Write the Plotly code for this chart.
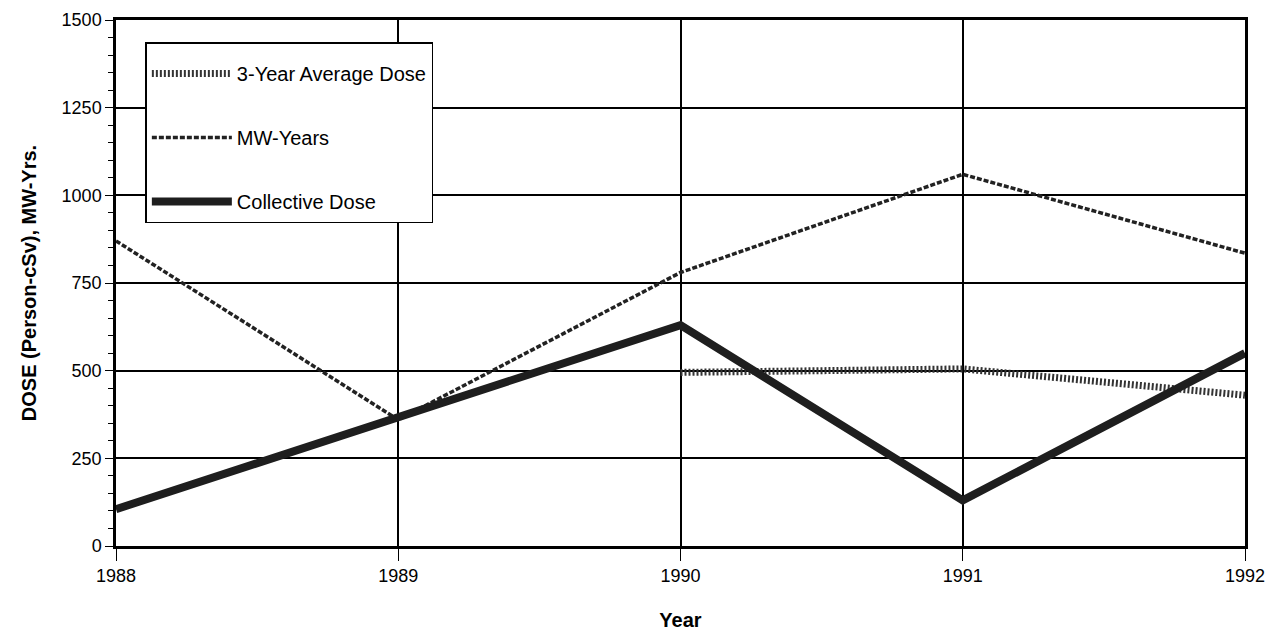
import plotly.graph_objects as go

years = [1988, 1989, 1990, 1991, 1992]
collective_dose = [105, 365, 630, 130, 550]
mw_years = [870, 360, 780, 1060, 835]
avg_years = [1990, 1991, 1992]
avg_dose = [495, 505, 430]

y_ticks = [0, 250, 500, 750, 1000, 1250, 1500]
x_ticks = [1988, 1989, 1990, 1991, 1992]

FONT = "Liberation Sans Narrow, Liberation Sans, Arial"

fig = go.Figure()

fig.add_trace(go.Scatter(
    x=avg_years, y=avg_dose, mode="lines", name="3-Year Average Dose",
    line=dict(color="#333333", width=7, dash="2px,2px"),
    legendgroup="a"
))
fig.add_trace(go.Scatter(
    x=years, y=mw_years, mode="lines", name="MW-Years",
    line=dict(color="#222222", width=3.5, dash="5px,2px"),
    legendgroup="b"
))
fig.add_trace(go.Scatter(
    x=years, y=collective_dose, mode="lines", name="Collective Dose",
    line=dict(color="#1e1e1e", width=8),
    legendgroup="c"
))

axis_common = dict(
    showline=True, linecolor="black", linewidth=2.5, mirror=True,
    showgrid=True, gridcolor="black", gridwidth=1.6,
    ticks="outside", tickcolor="black", zeroline=False, automargin=False,
    tickfont=dict(family=FONT, size=18, color="black"),
)

fig.update_xaxes(
    range=[1988, 1992], tickvals=x_ticks, ticklen=12,
    title=dict(text="<b>Year</b>", font=dict(family=FONT, size=20, color="black"), standoff=28),
    **axis_common
)
fig.update_yaxes(
    range=[0, 1500], tickvals=y_ticks, ticklen=8,
    minor=dict(dtick=50, ticks="outside", ticklen=5, tickcolor="black", showgrid=False),
    title=dict(text="<b>DOSE (Person-cSv), MW-Yrs.</b>", font=dict(family=FONT, size=20, color="black"), standoff=20),
    **axis_common
)

fig.update_layout(
    width=1278, height=637,
    margin=dict(l=108, r=41, t=12, b=99),
    plot_bgcolor="white", paper_bgcolor="white",
    legend=dict(
        x=0.026, y=0.958, xanchor="left", yanchor="top",
        bgcolor="white", bordercolor="black", borderwidth=1.5,
        font=dict(family=FONT, size=20, color="black"),
        title=dict(text=" ", font=dict(size=8)),
        traceorder="grouped", tracegroupgap=35, itemwidth=80,
    ),
)

fig.write_html("out.html")
